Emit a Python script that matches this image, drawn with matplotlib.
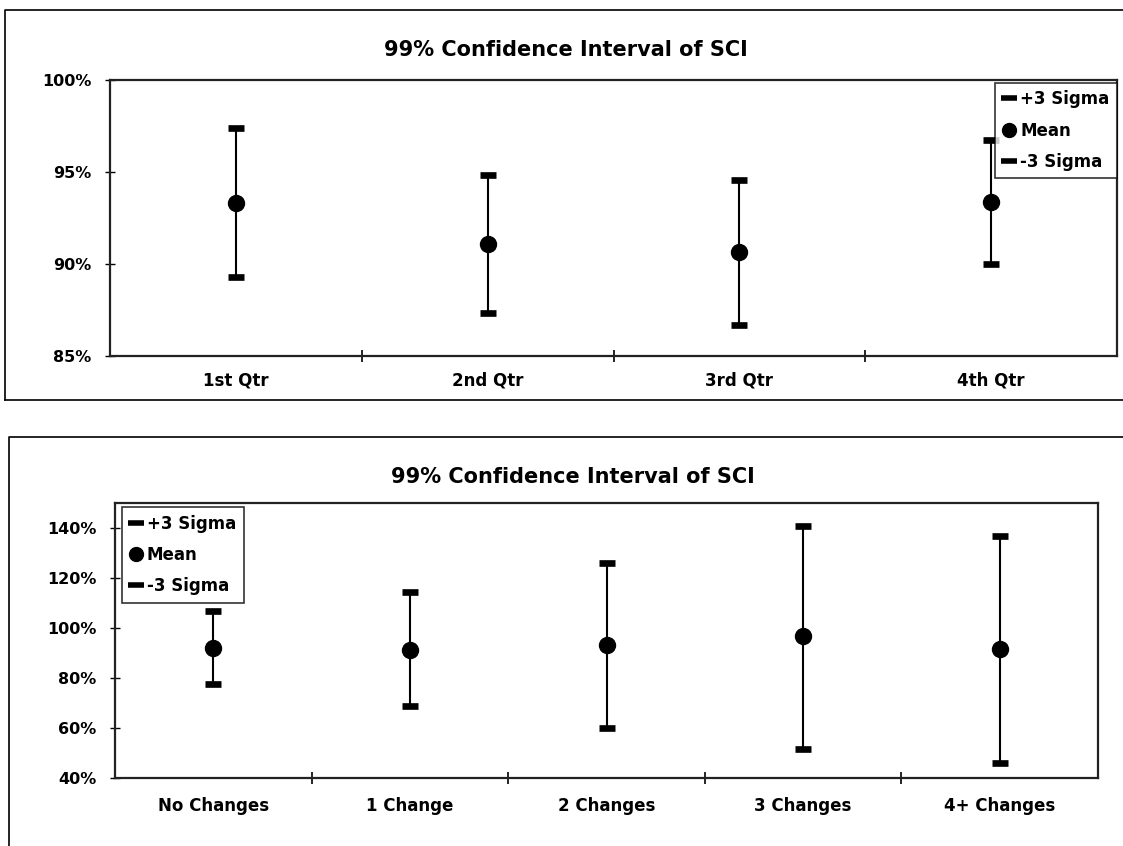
import matplotlib
matplotlib.use("Agg")
import matplotlib.pyplot as plt
from matplotlib.lines import Line2D
from matplotlib.ticker import FuncFormatter, FixedLocator

plt.rcParams['font.family'] = ['DejaVu Sans']

# ---- data ----
qtr_labels = ["1st Qtr", "2nd Qtr", "3rd Qtr", "4th Qtr"]
qtr_upper = [97.4, 94.85, 94.55, 96.75]
qtr_mean = [93.3, 91.1, 90.65, 93.35]
qtr_lower = [89.3, 87.35, 86.7, 90.0]

chg_labels = ["No Changes", "1 Change", "2 Changes", "3 Changes", "4+ Changes"]
chg_upper = [106.7, 114.3, 126.0, 140.9, 136.9]
chg_mean = [92.1, 91.3, 93.1, 96.7, 91.6]
chg_lower = [77.7, 68.8, 60.0, 51.5, 46.0]

title = "99% Confidence Interval of SCI"

W, H = 1123, 846
fig = plt.figure(figsize=(W / 100, H / 100), dpi=100)

TFS = 12


def frac(x0, y0, x1, y1):
    return [x0 / W, 1 - y1 / H, (x1 - x0) / W, (y1 - y0) / H]


def draw(ax, labels, upper, mean, lower, ylim, yticks, legend_loc, legend_anchor,
         xpad):
    n = len(labels)
    xs = list(range(n))
    for x, u, m, l in zip(xs, upper, mean, lower):
        ax.plot([x, x], [l, u], color='black', lw=1.5, zorder=2)
    ax.scatter(xs, upper, marker='_', s=140, linewidths=4.8, color='black', zorder=3)
    ax.scatter(xs, lower, marker='_', s=140, linewidths=4.8, color='black', zorder=3)
    ax.plot(xs, mean, linestyle='none', marker='o', color='black', markersize=11.5,
            zorder=4)
    ax.set_xlim(-0.5, n - 0.5)
    ax.set_ylim(*ylim)
    ax.yaxis.set_major_locator(FixedLocator(yticks))
    ax.yaxis.set_major_formatter(FuncFormatter(lambda v, p: f"{v:.0f}%"))
    ax.set_xticks(xs)
    ax.set_xticklabels(labels)
    ax.set_xticks([i + 0.5 for i in range(n - 1)], minor=True)
    ax.tick_params(axis='x', which='major', length=0, pad=xpad, labelsize=TFS)
    ax.tick_params(axis='x', which='minor', length=8, width=1.2, direction='inout')
    ax.tick_params(axis='y', which='major', length=7, width=1.0, direction='inout',
                   pad=10, labelsize=TFS - 0.5)
    for lab in ax.get_xticklabels() + ax.get_yticklabels():
        lab.set_fontweight('bold')
    for s in ax.spines.values():
        s.set_linewidth(1.6)
        s.set_color('#222222')
    handles = [
        Line2D([], [], linestyle='none', marker='_', markersize=11, markeredgewidth=4,
               color='black', label='+3 Sigma'),
        Line2D([], [], linestyle='none', marker='o', markersize=10, color='black',
               label='Mean'),
        Line2D([], [], linestyle='none', marker='_', markersize=11, markeredgewidth=4,
               color='black', label='-3 Sigma'),
    ]
    leg = ax.legend(handles=handles, loc=legend_loc, bbox_to_anchor=legend_anchor,
                    frameon=True, fancybox=False, handlelength=0.8,
                    handletextpad=0.25, labelspacing=0.8, borderpad=0.45,
                    borderaxespad=0.0,
                    prop={'size': TFS, 'weight': 'bold'})
    leg.get_frame().set_edgecolor('black')
    leg.get_frame().set_linewidth(1.2)


ax1 = fig.add_axes(frac(110, 80, 1117, 356))
draw(ax1, qtr_labels, qtr_upper, qtr_mean, qtr_lower, (85, 100), [85, 90, 95, 100],
     'upper right', (1.0, 0.99), 11)
fig.text(566 / W, 1 - 50 / H, title, ha='center', va='center', fontsize=15,
         fontweight='bold')

ax2 = fig.add_axes(frac(115, 503, 1098, 778))
draw(ax2, chg_labels, chg_upper, chg_mean, chg_lower, (40, 150),
     [40, 60, 80, 100, 120, 140], 'upper left', (0.007, 0.985), 14)
fig.text(573 / W, 1 - 477 / H, title, ha='center', va='center', fontsize=15,
         fontweight='bold')


def fline(xs, ys):
    fig.add_artist(Line2D([x / W for x in xs], [1 - y / H for y in ys],
                          color='black', lw=1.2))


fline([5, 5, 1123], [400, 10, 10])
fline([5, 1123], [400, 400])
fline([9, 9, 1123], [846, 437, 437])

fig.savefig("out.png", dpi=100)
